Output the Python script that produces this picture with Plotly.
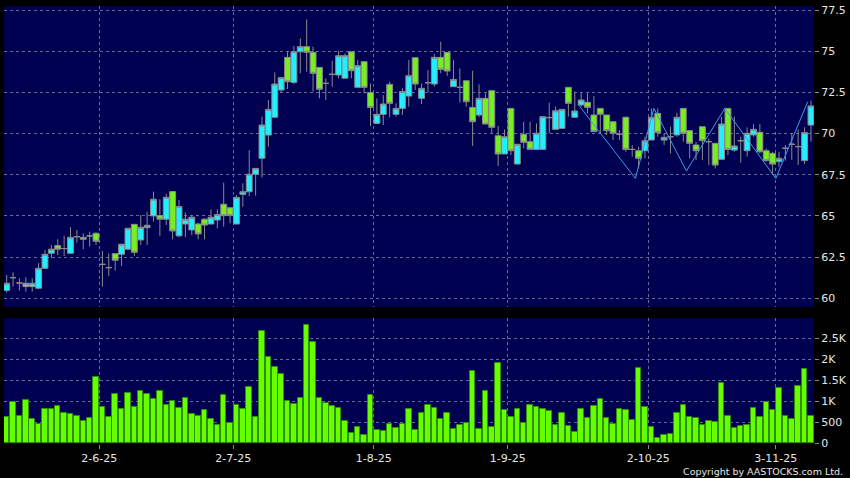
import pandas as pd
import plotly.graph_objects as go

# HK trading days shown on the chart (12 May - 10 Nov 2025)
hk_holidays = ["2025-07-01", "2025-10-01", "2025-10-07", "2025-10-29"]
days = [d for d in pd.bdate_range("2025-05-12", "2025-11-10") if d.strftime("%Y-%m-%d") not in hk_holidays]
idx = list(range(len(days)))

tick_dates = ["2025-06-02", "2025-07-02", "2025-08-01", "2025-09-01", "2025-10-02", "2025-11-03"]

opens = [60.47, 61.25, 60.93, 60.71, 60.71, 60.61, 61.82, 62.73, 63.20, 63.02,
         62.73, 63.74, 63.70, 63.79, 63.95, 62.06, 61.86, 62.71, 62.67, 62.98,
         64.49, 63.54, 64.29, 65.00, 65.02, 64.80, 66.48, 63.79, 64.51, 64.15,
         64.51, 64.80, 64.51, 64.75, 65.71, 65.50, 64.51, 66.31, 66.47, 67.53,
         68.50, 69.91, 70.99, 72.65, 74.63, 73.11, 74.97, 75.28, 74.94, 74.02,
         73.05, 73.60, 73.56, 73.36, 74.97, 72.81, 74.37, 72.49, 70.62, 71.17,
         72.99, 71.17, 71.53, 72.28, 74.61, 72.14, 73.09, 73.01, 74.63, 74.93,
         72.85, 72.81, 73.21, 71.59, 71.13, 72.14, 72.61, 69.87, 68.76, 71.53,
         68.15, 69.96, 69.51, 69.04, 69.04, 70.97, 70.26, 70.32, 72.81, 70.99,
         71.74, 71.90, 71.13, 71.53, 71.13, 70.72, 69.96, 70.99, 69.04, 68.96,
         68.96, 69.61, 71.23, 69.61, 69.81, 69.92, 71.53, 70.18, 69.31, 70.42,
         69.51, 69.41, 68.44, 71.53, 69.00, 69.57, 68.96, 69.92, 70.08, 68.96,
         68.80, 68.30, 69.11, 69.35, 69.21, 68.36, 70.52]
highs = [61.42, 61.58, 61.21, 61.28, 61.21, 62.13, 62.94, 63.24, 63.58, 63.79,
         64.31, 64.15, 63.95, 64.05, 63.99, 62.87, 62.73, 62.71, 63.28, 64.25,
         64.49, 65.06, 65.26, 66.48, 66.01, 66.34, 66.48, 65.97, 65.20, 65.06,
         64.59, 64.86, 65.40, 65.40, 67.02, 65.50, 66.27, 66.98, 69.00, 67.89,
         71.03, 72.04, 73.72, 73.40, 74.97, 75.32, 75.78, 76.94, 75.28, 74.02,
         73.35, 74.43, 75.04, 74.87, 74.97, 74.47, 74.37, 73.05, 72.14, 72.34,
         73.15, 71.84, 72.75, 74.47, 74.61, 73.05, 73.86, 74.83, 75.58, 74.93,
         74.47, 73.96, 73.21, 73.82, 72.99, 72.45, 72.61, 70.46, 70.26, 71.53,
         69.35, 70.72, 70.72, 70.62, 71.03, 71.88, 71.64, 71.47, 72.81, 72.55,
         72.49, 72.45, 72.28, 71.53, 71.13, 70.72, 70.22, 71.03, 69.30, 69.20,
         69.81, 71.53, 71.53, 70.02, 70.42, 71.27, 71.53, 70.22, 69.51, 70.42,
         69.71, 69.41, 71.03, 71.53, 71.03, 69.81, 70.38, 70.58, 70.58, 69.10,
         68.90, 68.90, 69.31, 70.02, 70.26, 70.38, 72.00]
lows = [60.34, 60.71, 60.47, 60.40, 60.40, 60.55, 61.76, 62.43, 62.63, 62.57,
        62.69, 63.38, 62.98, 63.14, 63.24, 60.71, 61.36, 61.68, 61.96, 62.94,
        62.57, 63.24, 63.24, 64.66, 63.79, 64.45, 63.58, 63.71, 63.71, 63.83,
        63.58, 63.58, 64.51, 64.25, 64.35, 64.55, 64.51, 65.56, 66.21, 66.23,
        67.34, 69.21, 70.99, 72.50, 72.71, 73.00, 73.66, 73.76, 72.55, 72.14,
        72.04, 72.85, 73.36, 73.36, 73.36, 72.81, 72.44, 70.46, 70.62, 70.52,
        70.99, 71.03, 71.13, 71.64, 72.65, 71.80, 72.49, 72.85, 73.66, 73.50,
        72.85, 71.88, 71.64, 69.25, 70.99, 70.58, 70.02, 68.03, 68.76, 68.70,
        68.15, 69.11, 69.00, 69.04, 69.04, 70.02, 70.26, 70.32, 71.03, 70.99,
        71.64, 71.23, 70.12, 70.02, 69.92, 69.61, 69.61, 68.90, 68.60, 67.89,
        68.50, 69.61, 69.81, 69.31, 68.80, 69.81, 69.51, 68.50, 68.40, 68.40,
        68.09, 67.89, 68.40, 68.70, 68.90, 68.23, 68.60, 69.81, 68.80, 68.30,
        67.59, 67.99, 68.36, 68.40, 68.09, 68.15, 69.51]
closes = [60.91, 61.25, 60.93, 60.91, 60.91, 61.82, 62.67, 62.98, 62.98, 63.02,
          63.70, 63.74, 63.58, 63.79, 63.46, 62.06, 61.86, 62.31, 63.28, 64.25,
          62.79, 64.31, 64.43, 66.01, 64.80, 66.13, 64.09, 65.57, 64.80, 64.92,
          63.91, 64.45, 64.92, 65.08, 65.02, 65.02, 66.13, 66.47, 67.53, 67.89,
          70.52, 71.47, 73.01, 73.40, 73.15, 74.97, 75.28, 74.94, 73.66, 72.69,
          73.05, 73.60, 74.73, 74.73, 73.82, 74.12, 72.81, 71.59, 71.17, 71.80,
          71.84, 71.53, 72.55, 73.52, 73.01, 72.75, 73.09, 74.63, 73.90, 73.80,
          73.29, 72.81, 71.94, 70.72, 72.14, 70.58, 70.38, 68.76, 69.81, 68.96,
          69.35, 69.47, 69.04, 70.02, 71.03, 70.97, 71.39, 71.47, 71.84, 71.37,
          72.04, 71.59, 70.12, 71.17, 70.18, 70.02, 69.96, 69.04, 69.04, 68.50,
          69.57, 70.99, 70.06, 69.77, 69.81, 70.99, 70.02, 69.41, 68.96, 69.57,
          69.51, 68.09, 70.58, 69.04, 69.25, 69.57, 70.02, 70.26, 68.90, 68.36,
          68.15, 68.50, 69.11, 69.35, 69.21, 70.06, 71.68]
volume = [635, 976, 659, 1023, 579, 460, 817, 817, 897, 730,
          690, 651, 540, 603, 1579, 865, 619, 1175, 810, 1190,
          865, 1254, 1183, 1048, 1238, 921, 1008, 849, 1079, 698,
          643, 794, 579, 429, 1143, 492, 913, 817, 1333, 627,
          2675, 2063, 1817, 1651, 1016, 929, 1071, 2818, 2413, 1071,
          952, 889, 849, 532, 254, 389, 198, 1151, 317, 294,
          468, 373, 460, 810, 310, 714, 913, 833, 579, 714,
          341, 436, 476, 1722, 349, 1238, 389, 1905, 802, 627,
          810, 492, 905, 857, 817, 762, 444, 722, 405, 262,
          810, 595, 881, 1056, 595, 460, 810, 794, 556, 1786,
          857, 381, 119, 198, 222, 714, 905, 627, 595, 429,
          532, 508, 1445, 659, 373, 421, 444, 833, 627, 992,
          794, 1310, 659, 571, 1357, 1762, 659]

# zigzag overlay (x in trading-day index)
zz_x = [89.6, 98.5, 101.4, 106.5, 112.5, 120.5, 125.5]
zz_y = [71.74, 67.28, 71.53, 67.73, 71.53, 67.28, 71.94]

price_ticks = [60, 62.5, 65, 67.5, 70, 72.5, 75, 77.5]
vol_ticks = [0, 500, 1000, 1500, 2000, 2500]
vol_labels = ["0", "500", "1K", "1.5K", "2K", "2.5K"]

NAVY = "#000050"
GRID = "#6a6a9a"
CYAN = "#22eeff"
LIME = "#77ee22"
GRAY = "#8a8a8a"

day_str = [d.strftime("%Y-%m-%d") for d in days]
tick_pos = [day_str.index(t) - 0.5 for t in tick_dates]
tick_txt = ["%d-%d-%02d" % (pd.Timestamp(t).day, pd.Timestamp(t).month, pd.Timestamp(t).year % 100) for t in tick_dates]

fig = go.Figure()
fig.add_trace(go.Candlestick(
    x=idx, open=opens, high=highs, low=lows, close=closes,
    increasing=dict(fillcolor=CYAN, line=dict(color=GRAY, width=1)),
    decreasing=dict(fillcolor=LIME, line=dict(color=GRAY, width=1)),
    whiskerwidth=0, xaxis="x", yaxis="y", hoverinfo="skip"))
fig.add_trace(go.Scatter(x=zz_x, y=zz_y, mode="lines",
                         line=dict(color="#3d9be9", width=1), xaxis="x", yaxis="y"))
fig.add_trace(go.Bar(x=idx, y=volume, width=0.86, xaxis="x2", yaxis="y2",
                     marker=dict(color="#66ff00", line=dict(color="#2f8f00", width=1))))

xr = [-0.42, 126.48]
axis_font = dict(family="DejaVu Sans", size=11, color="#e6e6e6")
grid = dict(showgrid=True, gridcolor=GRID, gridwidth=1, griddash="3px,3px", zeroline=False,
            showline=False)

fig.update_layout(
    width=850, height=478,
    margin=dict(l=4, r=36, t=6, b=34),
    paper_bgcolor="black", plot_bgcolor="black",
    showlegend=False, boxgap=0.08, boxgroupgap=0, bargap=0,
    font=axis_font,
    xaxis=dict(domain=[0, 1], anchor="y", range=xr, tickvals=tick_pos, showticklabels=False,
               ticks="", rangeslider=dict(visible=False), **grid),
    xaxis2=dict(domain=[0, 1], anchor="y2", range=xr, tickvals=tick_pos, ticktext=tick_txt,
                ticks="outside", ticklen=4, tickcolor=GRAY, tickfont=axis_font, **grid),
    yaxis=dict(domain=[0.3128, 1], anchor="x", side="right", range=[59.47, 77.75],
               tickvals=price_ticks, ticktext=[("%g" % v) for v in price_ticks],
               ticks="outside", ticklen=4, tickcolor=GRAY, tickfont=axis_font, **grid),
    yaxis2=dict(domain=[0, 0.2877], anchor="x2", side="right", range=[-17, 2983],
                tickvals=vol_ticks, ticktext=vol_labels,
                ticks="outside", ticklen=4, tickcolor=GRAY, tickfont=axis_font, **grid),
)

fig.add_shape(type="rect", xref="x domain", yref="y domain", x0=0, x1=1, y0=0, y1=1,
              fillcolor=NAVY, line_width=0, layer="below")
fig.add_shape(type="rect", xref="x2 domain", yref="y2 domain", x0=0, x1=1, y0=0, y1=1,
              fillcolor=NAVY, line_width=0, layer="below")

fig.add_annotation(text="Copyright by AASTOCKS.com Ltd.", xref="paper", yref="paper",
                   x=1.0383, y=-0.0632, xanchor="right", yanchor="middle", showarrow=False,
                   font=dict(family="DejaVu Sans", size=9.5, color="#e6e6e6"))

# the page body has a default 8px margin; drop it so the 850x478 figure fills the window
fig.write_html("out.html", config={"displayModeBar": False},
               post_script="document.body.style.margin='0';")
